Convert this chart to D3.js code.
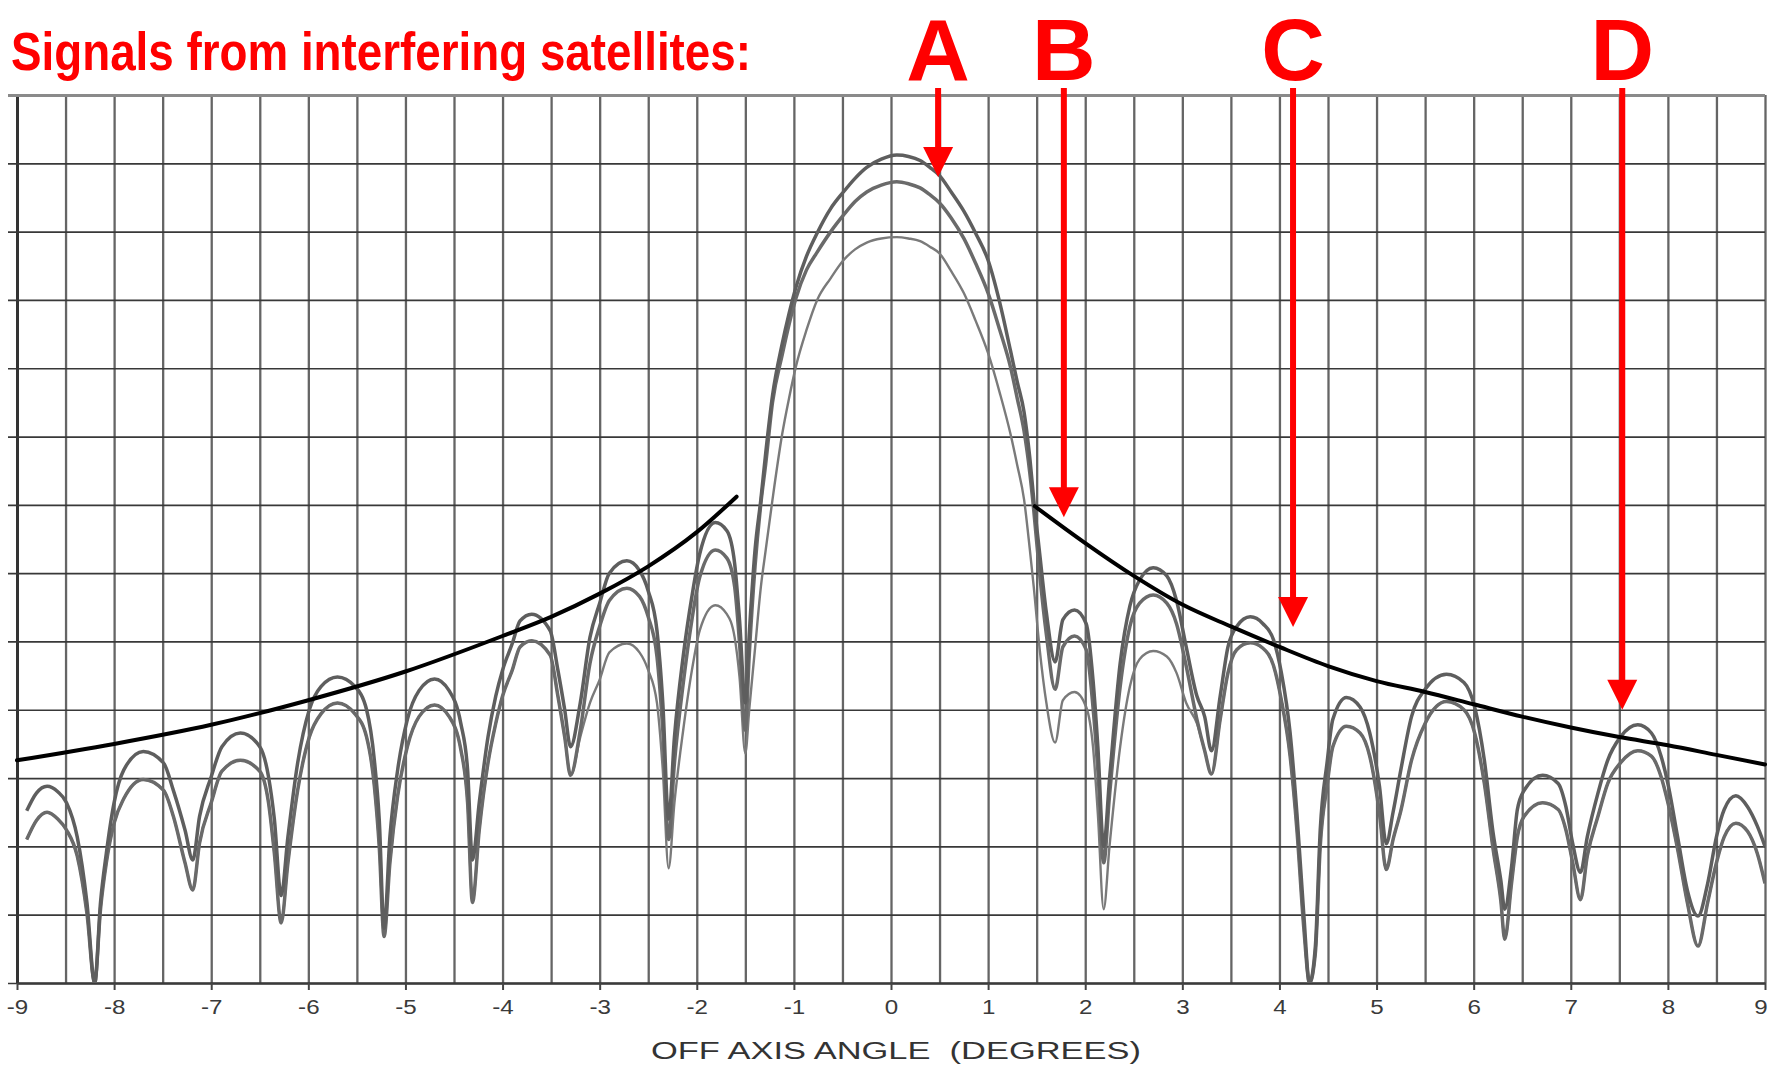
<!DOCTYPE html>
<html><head><meta charset="utf-8">
<script src="https://cdn.jsdelivr.net/npm/d3@7"></script>
<style>
html,body{margin:0;padding:0;background:#fff;}
svg{display:block;}
</style></head>
<body><svg id="chart" width="1771" height="1066"></svg>
<script>
// ---------------- DATA ----------------
// Off-axis angle (degrees) sampled along the three antenna patterns
const angles = [
 -8.90,-8.80,-8.69,-8.58,-8.49,-8.38,-8.28,-8.20,
 -8.14,-8.08,-8.00,-7.90,-7.70,-7.49,-7.39,-7.27,-7.19,
 -7.12,-7.00,-6.89,-6.70,-6.50,-6.41,-6.35,-6.28,
 -6.21,-6.11,-5.99,-5.87,-5.70,-5.52,-5.40,-5.32,-5.27,-5.22,
 -5.16,-5.08,-4.98,-4.86,-4.70,-4.55,-4.43,-4.36,-4.31,
 -4.24,-4.15,-4.07,-4.00,-3.90,-3.82,-3.70,-3.51,-3.43,-3.36,-3.30,
 -3.20,-3.10,-3.00,-2.90,-2.72,-2.59,-2.50,-2.41,-2.35,-2.29,
 -2.23,-2.14,-2.05,-1.97,-1.81,-1.69,-1.61,-1.56,-1.50,
 -1.46,-1.40,-1.34,-1.29,-1.22,-1.12,-1.05,-0.98,-0.87,-0.76,-0.62,-0.49,-0.37,-0.25,-0.10,0.06,
 0.18,0.30,0.40,0.50,0.62,0.75,0.87,1.00,1.12,1.23,1.30,1.37,1.43,1.47,1.53,1.60,1.69,
 1.77,1.89,2.01,2.08,2.13,2.19,
 2.25,2.36,2.46,2.56,2.70,2.84,2.94,3.04,3.15,3.23,3.30,
 3.39,3.47,3.56,3.70,3.83,3.94,4.02,4.11,4.18,4.25,4.31,
 4.37,4.42,4.49,4.55,4.69,4.83,4.93,5.03,5.10,
 5.17,5.25,5.36,5.50,5.72,5.90,6.01,6.11,6.20,6.28,6.32,
 6.39,6.45,6.52,6.71,6.87,6.95,7.02,7.10,
 7.17,7.28,7.38,7.51,7.69,7.83,7.93,8.00,8.10,8.20,8.31,
 8.41,8.50,8.58,8.70,8.82,8.92,9.00
];
// Gain (dBi) - upper (darkest) pattern
const gainA = [
 2.6,3.9,4.4,4.0,3.2,0.7,-4.1,-10,
 -4.1,-0.5,3.2,5.6,6.95,6.1,4.1,1.2,-1.0,
 2.2,5.1,7.3,8.3,7.3,5.1,2.0,-3.6,
 0.7,6.1,10.0,11.7,12.4,11.7,10.0,6.3,2.0,-6.0,
 0.7,5.6,9.3,11.4,12.25,11.4,9.0,5.6,-1.0,
 3.2,8.0,11.0,12.9,14.85,16.5,17.0,15.8,12.9,10.0,7.3,
 10.5,15.3,17.8,20.0,20.9,20.2,18.7,15.8,10.5,2.0,
 8.0,13.9,18.3,21.4,23.7,23.1,20.7,16.6,10.5,
 15.5,21.7,25.4,28.8,33.0,36.8,39.0,40.9,43.2,44.9,46.7,47.9,48.9,49.7,50.3,50.6,
 50.5,50.2,49.7,49.1,47.9,46.5,44.9,42.9,39.8,36.3,34.0,31.8,28.4,25.4,21.5,17.1,13.5,
 16.6,17.3,16.3,12.2,7.3,0.0,
 4.9,13.4,17.6,19.5,20.4,19.8,18.0,14.6,11.0,9.5,7.0,
 11.0,14.6,16.1,16.8,16.3,15.1,12.7,8.3,2.4,-4.9,-10,
 -7.3,1.2,6.1,9.3,10.9,10.2,8.3,4.4,0.2,
 2.5,5.6,9.5,11.5,12.6,12.0,10.2,6.3,1.0,-2.5,-4.6,
 -1.5,2.7,4.1,5.2,4.6,2.9,0.2,-1.9,
 0.7,3.9,6.3,8.0,8.9,8.3,6.6,4.6,0.7,-3.2,-5.1,
 -2.7,0.7,2.7,3.7,2.9,1.5,0.0
];
// Gain (dBi) - middle pattern
const gainB = [
 0.5,1.9,2.5,2.0,1.2,-0.7,-4.9,-10,
 -4.6,-1.2,1.7,3.5,4.9,4.1,2.2,-1.2,-3.2,
 0.25,3.2,5.5,6.3,5.5,3.2,-0.5,-5.6,
 -1.2,4.1,8.0,9.7,10.5,9.7,8.0,4.4,0.0,-6.6,
 -1.2,3.7,7.3,9.5,10.35,9.5,7.1,3.2,-4.1,
 1.2,6.1,9.0,11.0,12.9,14.6,15.05,14.0,11.0,8.0,5.2,
 8.5,13.4,16.1,18.0,18.9,18.3,16.8,13.9,8.5,0.5,
 6.1,11.9,16.6,19.7,21.7,21.1,19.0,14.9,8.5,
 14.0,20.5,25.1,28.0,32.5,36.0,38.2,40.1,42.2,43.5,45.0,46.2,47.2,47.9,48.4,48.65,
 48.5,48.2,47.7,47.1,46.0,44.5,42.7,40.5,37.8,35.1,32.8,30.4,27.3,24.6,20.0,15.5,11.5,
 14.6,15.4,14.4,10.2,5.6,-1.2,
 3.7,11.7,16.1,17.8,18.4,17.8,16.3,13.2,9.3,7.0,5.3,
 9.3,12.7,14.4,14.9,14.5,13.2,10.7,6.6,1.2,-5.9,-10,
 -7.8,0.0,4.4,7.3,8.8,8.3,6.6,2.4,-1.7,
 0.5,2.6,6.3,9.0,10.6,10.0,8.3,4.6,-0.2,-4.0,-6.8,
 -2.7,0.7,2.2,3.2,2.7,1.2,-1.2,-3.9,
 -0.7,2.2,4.6,6.1,7.0,6.6,5.1,3.2,-0.2,-4.1,-7.3,
 -4.1,-1.2,0.7,1.7,1.1,-0.5,-2.7
];
// Gain (dBi) - lower (thin) pattern
const gainC = [
 0.5,1.9,2.5,2.0,1.2,-0.7,-4.9,-10,
 -4.6,-1.2,1.7,3.5,4.9,4.1,2.2,-1.2,-3.2,
 0.25,3.2,5.5,6.3,5.5,3.2,-0.5,-5.6,
 -1.2,4.1,8.0,9.7,10.5,9.7,8.0,4.4,0.0,-6.6,
 -1.2,3.7,7.3,9.5,10.35,9.5,7.1,3.2,-4.1,
 1.2,6.1,9.0,11.0,12.9,14.6,15.05,14.0,11.0,8.0,5.2,
 8.0,10.5,12.2,14.2,14.85,14.2,12.9,10.5,5.6,-1.6,
 3.2,8.5,12.9,15.8,17.65,17.0,15.3,12.4,6.8,
 10.0,14.5,19.0,21.7,25.4,30.2,32.8,35.1,37.8,40.0,41.6,42.9,43.7,44.2,44.5,44.6,
 44.5,44.3,43.9,43.4,42.1,40.5,38.5,36.1,33.2,30.2,27.9,25.4,21.7,19.0,14.5,10.5,7.6,
 10.7,11.3,10.2,7.3,2.4,-4.6,
 0.0,7.3,11.7,13.7,14.3,13.9,12.7,10.5,9.0,7.0,5.3,
 9.3,12.7,14.4,14.9,14.5,13.2,10.7,6.6,1.2,-5.9,-10,
 -7.8,0.0,4.4,7.3,8.8,8.3,6.6,2.4,-1.7,
 0.5,2.6,6.3,9.0,10.6,10.0,8.3,4.6,-0.2,-4.0,-6.8,
 -2.7,0.7,2.2,3.2,2.7,1.2,-1.2,-3.9,
 -0.7,2.2,4.6,6.1,7.0,6.6,5.1,3.2,-0.2,-4.1,-7.3,
 -4.1,-1.2,0.7,1.7,1.1,-0.5,-2.7
];
// Sidelobe envelope (black curve), left and right branches
const envLeftAngles  = [-9.0,-8.0,-7.0,-6.0,-5.0,-4.0,-3.5,-3.0,-2.5,-2.0,-1.59];
const envLeftGain    = [6.3,7.5,8.9,10.7,12.8,15.4,16.8,18.5,20.5,23.0,25.6];
const envRightAngles = [1.48,2.0,2.5,3.0,3.5,4.0,4.5,5.0,5.5,6.0,6.5,7.0,7.5,8.0,8.5,9.0];
const envRightGain   = [24.9,22.2,19.8,17.7,16.1,14.6,13.2,12.1,11.3,10.4,9.5,8.7,8.0,7.4,6.7,6.0];

// Axis ticks / grid
const xTickValues = [-9,-8,-7,-6,-5,-4,-3,-2,-1,0,1,2,3,4,5,6,7,8,9];
const xTickLabels = ["-9","-8","-7","-6","-5","-4","-3","-2","-1","0","1","2","3","4","5","6","7","8","9"];
const gridAngles = [-9,-8.5,-8,-7.5,-7,-6.5,-6,-5.5,-5,-4.5,-4,-3.5,-3,-2.5,-2,-1.5,-1,-0.5,0,0.5,1,1.5,2,2.5,3,3.5,4,4.5,5,5.5,6,6.5,7,7.5,8,8.5,9];
const gainGrid = [-10,-5,0,5,10,15,20,25,30,35,40,45,50,55];

// Annotations: interfering satellites
const satLabels = ["A","B","C","D"];
const satAngles = [0.485,1.78,4.14,7.53];
const satTipGain = [49.0,24.1,16.05,10.0];

const titleText = "Signals from interfering satellites:";
const xTitleText = "OFF AXIS ANGLE  (DEGREES)";

// ---------------- CHART ----------------
const W = 1771, H = 1066;
const plot = {left:17, right:1765, top:95, bottom:983};
const x = d3.scaleLinear().domain([-9,9]).range([plot.left, plot.right]);
const y = d3.scaleLinear().domain([-10,55]).range([plot.bottom, plot.top]);
const svg = d3.select("#chart");
svg.append("rect").attr("width",W).attr("height",H).attr("fill","#fff");

svg.append("defs").append("clipPath").attr("id","plotClip")
  .append("rect").attr("x",plot.left).attr("y",plot.top-2)
  .attr("width",plot.right-plot.left).attr("height",plot.bottom-plot.top+2);

// vertical grid lines every half degree
svg.append("g").attr("transform",`translate(0,${plot.bottom})`)
  .call(d3.axisBottom(x).tickValues(gridAngles).tickSize(-(plot.bottom-plot.top)).tickFormat(""))
  .call(g=>g.select(".domain").remove())
  .selectAll("line").attr("stroke","#656565").attr("stroke-width",2.3);

// horizontal grid lines every 5 dB, with small ticks left of the axis
const yg = svg.append("g").attr("transform",`translate(${plot.left},0)`)
  .call(d3.axisLeft(y).tickValues(gainGrid).tickSize(-(plot.right-plot.left)).tickSizeOuter(0).tickFormat(""));
yg.selectAll(".tick line").attr("x1",-9).attr("stroke","#383838").attr("stroke-width",1.7);
yg.selectAll(".tick").filter(d=>d===55).select("line").attr("stroke","#8a8a8a").attr("stroke-width",3);
yg.select(".domain").attr("stroke","#333").attr("stroke-width",3);

// bottom axis with labels
const xa = svg.append("g").attr("transform",`translate(0,${plot.bottom})`)
  .call(d3.axisBottom(x).tickValues(xTickValues).tickSize(7).tickSizeOuter(0).tickPadding(9)
        .tickFormat((d,i)=>xTickLabels[i]));
xa.select(".domain").attr("stroke","#3a3a3a").attr("stroke-width",2.6);
xa.selectAll(".tick line").attr("stroke","#444").attr("stroke-width",2);
xa.selectAll("text").attr("font-family","'Liberation Sans', Arial, sans-serif")
  .attr("font-size",21).attr("fill","#3a3a3a").attr("transform","scale(1.15,1)");
xa.selectAll(".tick").filter(d=>d===9).select("text").attr("x",-4);

// antenna patterns
const pts = g => angles.map((a,i)=>[a,g[i]]);
const line = d3.line().x(d=>x(d[0])).y(d=>y(d[1])).curve(d3.curveMonotoneX);
const series = [
  {g:gainC, color:"#7a7a7a", w:2.4},
  {g:gainB, color:"#6a6a6a", w:3.5},
  {g:gainA, color:"#5e5e5e", w:3.5}
];
const curves = svg.append("g").attr("clip-path","url(#plotClip)");
series.forEach(s=>{
  curves.append("path").attr("d",line(pts(s.g))).attr("fill","none")
    .attr("stroke",s.color).attr("stroke-width",s.w).attr("stroke-linejoin","round");
});

// envelope
const envLine = d3.line().x(d=>x(d[0])).y(d=>y(d[1])).curve(d3.curveMonotoneX);
[[envLeftAngles,envLeftGain],[envRightAngles,envRightGain]].forEach(([a,g])=>{
  svg.append("path").attr("d",envLine(a.map((v,i)=>[v,g[i]]))).attr("fill","none")
    .attr("stroke","#000").attr("stroke-width",4).attr("stroke-linecap","round");
});

// title
svg.append("text").attr("x",11).attr("y",70).text(titleText)
  .attr("font-family","'Liberation Sans', Arial, sans-serif").attr("font-weight","bold")
  .attr("font-size",54).attr("fill","#ff0000")
  .attr("textLength",740).attr("lengthAdjust","spacingAndGlyphs");

// arrows and letters
const arrowTop = 88, headH = 30, headW = 30;
satLabels.forEach((lab,i)=>{
  const ax = x(satAngles[i]);
  const tip = y(satTipGain[i]);
  svg.append("line").attr("x1",ax).attr("x2",ax).attr("y1",arrowTop).attr("y2",tip-headH+2)
    .attr("stroke","#ff0000").attr("stroke-width",6);
  svg.append("path").attr("d",`M${ax-headW/2},${tip-headH}L${ax+headW/2},${tip-headH}L${ax},${tip}Z`)
    .attr("fill","#ff0000");
  svg.append("text").attr("x",ax).attr("y",80)
    .attr("text-anchor","middle").text(lab)
    .attr("font-family","'Liberation Sans', Arial, sans-serif").attr("font-weight","bold")
    .attr("font-size",88).attr("fill","#ff0000");
});

// x axis title
svg.append("text").attr("x",896).attr("y",1059).attr("text-anchor","middle")
  .style("white-space","pre").text(xTitleText)
  .attr("font-family","'Liberation Sans', Arial, sans-serif").attr("font-size",23)
  .attr("fill","#333").attr("textLength",490).attr("lengthAdjust","spacingAndGlyphs");
</script>
</body></html>
